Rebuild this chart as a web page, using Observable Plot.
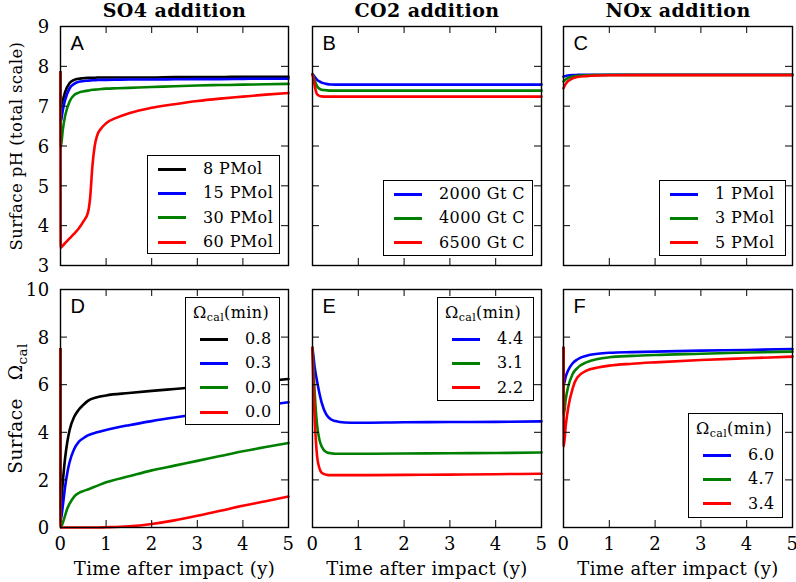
<!DOCTYPE html>
<html><head><meta charset="utf-8">
<script src="https://cdn.jsdelivr.net/npm/d3@7"></script>
<script src="https://cdn.jsdelivr.net/npm/@observablehq/plot@0.6"></script>
<style>
body{margin:0;background:#fff;}
#chart{position:relative;width:796px;height:582px;overflow:hidden;font-family:"DejaVu Serif",serif;background:#fff;}
#chart svg{position:absolute;}
#chart svg text{letter-spacing:0.4px;}
.legend{position:absolute;border:1.5px solid #000;background:#fff;box-sizing:border-box;font-size:16px;font-family:"DejaVu Serif",serif;color:#000;}
.legend .sw{position:absolute;height:3px;}
.legend .lb{position:absolute;height:20px;line-height:20px;white-space:nowrap;letter-spacing:0.4px;}
.legend sub{font-size:11px;vertical-align:-3px;line-height:0;}
</style></head>
<body><div id="chart"></div>
<script>
// ---------- data ----------
const colors = ["#000000", "#0000ff", "#008000", "#ff0000"];
const xTicks = [0, 1, 2, 3, 4, 5];
const yTicksPH = [3, 4, 5, 6, 7, 8, 9];
const yTicksOm = [0, 2, 4, 6, 8, 10];
const titles = ["SO4 addition", "CO2 addition", "NOx addition"];
const letters = ["A", "B", "C", "D", "E", "F"];
const yLabelTop = "Surface pH (total scale)";
const yLabelBottom = "Surface Ωcal";
const xLabel = "Time after impact (y)";

// Panel A: SO4, pH
const tA = [0, 0.005, 0.05, 0.1, 0.2, 0.3, 0.4, 0.5, 0.6, 0.65, 0.7, 0.75, 0.8, 0.9, 1, 1.25, 1.5, 2, 2.5, 3, 3.5, 4, 4.5, 5];
const a8  = [7.85, 7.0, 7.15, 7.35, 7.58, 7.66, 7.69, 7.70, 7.71, 7.71, 7.71, 7.71, 7.72, 7.72, 7.72, 7.72, 7.72, 7.72, 7.73, 7.73, 7.73, 7.74, 7.74, 7.74];
const a15 = [7.85, 6.6, 6.9, 7.15, 7.45, 7.56, 7.61, 7.63, 7.64, 7.645, 7.65, 7.65, 7.655, 7.66, 7.66, 7.665, 7.67, 7.67, 7.675, 7.68, 7.68, 7.685, 7.69, 7.69];
const a30 = [7.85, 5.95, 6.4, 6.75, 7.12, 7.28, 7.34, 7.37, 7.39, 7.40, 7.41, 7.415, 7.42, 7.43, 7.44, 7.45, 7.46, 7.48, 7.50, 7.52, 7.53, 7.54, 7.55, 7.56];
const a60 = [7.85, 3.45, 3.5, 3.56, 3.68, 3.8, 3.93, 4.1, 4.32, 4.7, 5.5, 6.0, 6.25, 6.45, 6.57, 6.72, 6.82, 6.96, 7.05, 7.13, 7.19, 7.24, 7.29, 7.33];
const legA = ["8 PMol", "15 PMol", "30 PMol", "60 PMol"];

// Panel B: CO2, pH
const tB = [0, 0.02, 0.05, 0.1, 0.15, 0.2, 0.3, 0.4, 0.6, 1, 2, 3, 4, 5];
const b2000 = [7.8, 7.78, 7.73, 7.66, 7.62, 7.59, 7.56, 7.545, 7.54, 7.54, 7.54, 7.54, 7.54, 7.54];
const b4000 = [7.8, 7.75, 7.64, 7.5, 7.44, 7.415, 7.40, 7.39, 7.39, 7.39, 7.39, 7.39, 7.39, 7.39];
const b6500 = [7.8, 7.7, 7.5, 7.3, 7.26, 7.245, 7.24, 7.24, 7.24, 7.24, 7.24, 7.24, 7.24, 7.24];
const legB = ["2000 Gt C", "4000 Gt C", "6500 Gt C"];

// Panel C: NOx, pH
const tC = [0, 0.02, 0.05, 0.1, 0.2, 0.3, 0.5, 0.75, 1, 2, 3, 4, 5];
const c1 = [7.74, 7.75, 7.76, 7.77, 7.78, 7.785, 7.79, 7.79, 7.79, 7.79, 7.79, 7.79, 7.79];
const c3 = [7.62, 7.64, 7.67, 7.71, 7.745, 7.76, 7.775, 7.78, 7.785, 7.785, 7.785, 7.785, 7.785];
const c5 = [7.45, 7.5, 7.56, 7.63, 7.7, 7.73, 7.755, 7.77, 7.775, 7.78, 7.78, 7.78, 7.78];
const legC = ["1 PMol", "3 PMol", "5 PMol"];

// Panel D: SO4, Omega
const tD = [0, 0.005, 0.05, 0.1, 0.15, 0.2, 0.3, 0.4, 0.5, 0.6, 0.8, 1, 1.5, 2, 2.5, 3, 3.5, 4, 4.5, 5];
const d08 = [7.5, 0.8, 1.9, 2.9, 3.6, 4.1, 4.65, 4.95, 5.15, 5.32, 5.47, 5.55, 5.65, 5.74, 5.82, 5.9, 5.98, 6.07, 6.15, 6.24];
const d03 = [7.5, 0.3, 0.9, 1.7, 2.3, 2.75, 3.3, 3.6, 3.75, 3.87, 4.0, 4.1, 4.3, 4.47, 4.62, 4.76, 4.9, 5.02, 5.14, 5.26];
const d00a = [7.5, 0.0, 0.2, 0.5, 0.8, 1.0, 1.3, 1.45, 1.53, 1.6, 1.75, 1.9, 2.15, 2.4, 2.6, 2.8, 3.0, 3.2, 3.38, 3.55];
const d00b = [7.5, 0.0, 0.0, 0.0, 0.0, 0.0, 0.0, 0.0, 0.0, 0.0, 0.0, 0.01, 0.05, 0.15, 0.3, 0.49, 0.7, 0.91, 1.1, 1.3];
const legD = ["0.8", "0.3", "0.0", "0.0"];

// Panel E: CO2, Omega
const tE = [0, 0.02, 0.05, 0.1, 0.15, 0.2, 0.3, 0.4, 0.5, 0.7, 1, 2, 3, 4, 5];
const e44 = [7.55, 7.2, 6.7, 6.15, 5.65, 5.25, 4.75, 4.55, 4.47, 4.41, 4.4, 4.42, 4.43, 4.44, 4.46];
const e31 = [7.55, 6.7, 5.6, 4.3, 3.7, 3.4, 3.17, 3.12, 3.1, 3.1, 3.1, 3.11, 3.12, 3.13, 3.15];
const e22 = [7.55, 6.0, 4.5, 3.0, 2.5, 2.3, 2.22, 2.2, 2.2, 2.2, 2.2, 2.21, 2.22, 2.24, 2.26];
const legE = ["4.4", "3.1", "2.2"];

// Panel F: NOx, Omega
const tF = [0, 0.005, 0.05, 0.1, 0.2, 0.3, 0.5, 0.75, 1, 1.5, 2, 3, 4, 5];
const f60 = [7.55, 6.0, 6.35, 6.6, 6.9, 7.06, 7.22, 7.3, 7.34, 7.37, 7.39, 7.43, 7.46, 7.5];
const f47 = [7.55, 4.7, 5.4, 5.9, 6.45, 6.7, 6.94, 7.08, 7.15, 7.21, 7.25, 7.3, 7.35, 7.39];
const f34 = [7.55, 3.4, 4.3, 5.0, 5.85, 6.3, 6.59, 6.72, 6.8, 6.88, 6.94, 7.04, 7.11, 7.18];
const legF = ["6.0", "4.7", "3.4"];

// ---------- layout ----------
const colL = [60, 312, 563], colR = [288, 541, 792];
const rowT = [26, 289], rowB = [265, 527];
const mL = 62, mR = 8, mT = 30, mB = 58;
const chart = document.getElementById("chart");
const fmt = d => String(d);

function series(t, vals, cols) {
  return vals.flatMap((v, k) => t.map((tt, i) => ({t: tt, v: v[i], k, c: cols[k]})));
}

function panel(col, row, data, yDomain, yTicks, idx) {
  const W = colR[col] - colL[col], H = rowB[row] - rowT[row];
  const marks = [
    Plot.line(data, {x: "t", y: "v", z: "k", stroke: "c", strokeWidth: 2.6, curve: "monotone-x"}),
    Plot.tickX(xTicks, {x: d => d, insetTop: H - 7, stroke: "#000", strokeWidth: 1}),
    Plot.tickX(xTicks, {x: d => d, insetBottom: H - 7, stroke: "#000", strokeWidth: 1}),
    Plot.tickY(yTicks, {y: d => d, insetRight: W - 7, stroke: "#000", strokeWidth: 1}),
    Plot.tickY(yTicks, {y: d => d, insetLeft: W - 7, stroke: "#000", strokeWidth: 1}),
    Plot.frame({stroke: "#000", strokeWidth: 1.4}),
    Plot.text([letters[idx]], {frameAnchor: "top-left", dx: 10, dy: 9, lineAnchor: "top", textAnchor: "start", fontFamily: "Liberation Sans, Arial, sans-serif", fontSize: 20, fill: "#000"})
  ];
  if (row === 0) {
    marks.push(Plot.text([titles[col]], {frameAnchor: "top", dy: -10, lineAnchor: "bottom", fontWeight: "bold", fontSize: 19, fill: "#000"}));
  } else {
    marks.push(Plot.axisX({ticks: xTicks, tickFormat: fmt, tickSize: 0, tickPadding: 10, fontSize: 18, label: null}));
    marks.push(Plot.text([xLabel], {frameAnchor: "bottom", dy: 47, lineAnchor: "bottom", fontSize: 18, fill: "#000"}));
  }
  if (col === 0) {
    marks.push(Plot.axisY({ticks: yTicks, tickFormat: fmt, tickSize: 0, tickPadding: 11, fontSize: 18, label: null, dy: 1}));
    marks.push(Plot.text([row === 0 ? yLabelTop : yLabelBottom], {frameAnchor: "left", dx: -44, rotate: -90, lineAnchor: "middle", textAnchor: "middle", fontSize: row === 0 ? 16.5 : 18.5, fill: "#000"}));
  }
  const svg = Plot.plot({
    width: W + mL + mR,
    height: H + mT + mB,
    marginLeft: mL, marginRight: mR, marginTop: mT, marginBottom: mB,
    x: {domain: [0, 5], axis: null},
    y: {domain: yDomain, axis: null},
    color: {type: "identity"},
    style: {background: "transparent", overflow: "visible", fontFamily: "DejaVu Serif, serif", color: "#000"},
    marks
  });
  svg.style.left = (colL[col] - mL) + "px";
  svg.style.top = (rowT[row] - mT) + "px";
  chart.appendChild(svg);
  // subscript for Omega label
  if (col === 0 && row === 1) {
    d3.select(svg).selectAll("text").filter(function() { return this.textContent === yLabelBottom; }).each(function() {
      const t = d3.select(this);
      t.text(null);
      t.append("tspan").text("Surface");
      t.append("tspan").attr("dx", 18).text("Ω");
      t.append("tspan").attr("font-size", 13.5).attr("dy", 5).text("cal");
    });
  }
}

panel(0, 0, series(tA, [a8, a15, a30, a60], colors), [3, 9], yTicksPH, 0);
panel(1, 0, series(tB, [b2000, b4000, b6500], colors.slice(1)), [3, 9], yTicksPH, 1);
panel(2, 0, series(tC, [c1, c3, c5], colors.slice(1)), [3, 9], yTicksPH, 2);
panel(0, 1, series(tD, [d08, d03, d00a, d00b], colors), [0, 10], yTicksOm, 3);
panel(1, 1, series(tE, [e44, e31, e22], colors.slice(1)), [0, 10], yTicksOm, 4);
panel(2, 1, series(tF, [f60, f47, f34], colors.slice(1)), [0, 10], yTicksOm, 5);

// ---------- legends ----------
function legend(box, labels, cols, hasTitle) {
  const div = document.createElement("div");
  div.className = "legend";
  Object.assign(div.style, {left: box[0] + "px", top: box[1] + "px", width: box[2] + "px", height: box[3] + "px"});
  const swL = hasTitle ? 14 : 10, txL = hasTitle ? 59 : 55;
  const y0 = hasTitle ? 41 : 13, dy = 24.4;
  if (hasTitle) {
    const tt = document.createElement("div");
    tt.className = "lb";
    tt.style.left = "7px"; tt.style.top = (15 - 10) + "px";
    tt.innerHTML = "Ω<sub>cal</sub>(min)";
    div.appendChild(tt);
  }
  labels.forEach((lab, i) => {
    const cy = y0 + i * dy;
    const sw = document.createElement("div");
    sw.className = "sw";
    Object.assign(sw.style, {left: swL + "px", width: "28px", top: (cy - 1.5) + "px", background: cols[i]});
    const lb = document.createElement("div");
    lb.className = "lb";
    Object.assign(lb.style, {left: txL + "px", top: (cy - 10) + "px"});
    lb.textContent = lab;
    div.appendChild(sw); div.appendChild(lb);
  });
  chart.appendChild(div);
}
legend([147, 155, 133, 99], legA, colors, false);
legend([383, 180, 150, 76], legB, colors.slice(1), false);
legend([659, 180, 127, 76], legC, colors.slice(1), false);
legend([185, 297, 95, 128], legD, colors, true);
legend([437, 297, 97, 104], legE, colors.slice(1), true);
legend([688, 413, 95, 105], legF, colors.slice(1), true);
</script>
</body></html>
